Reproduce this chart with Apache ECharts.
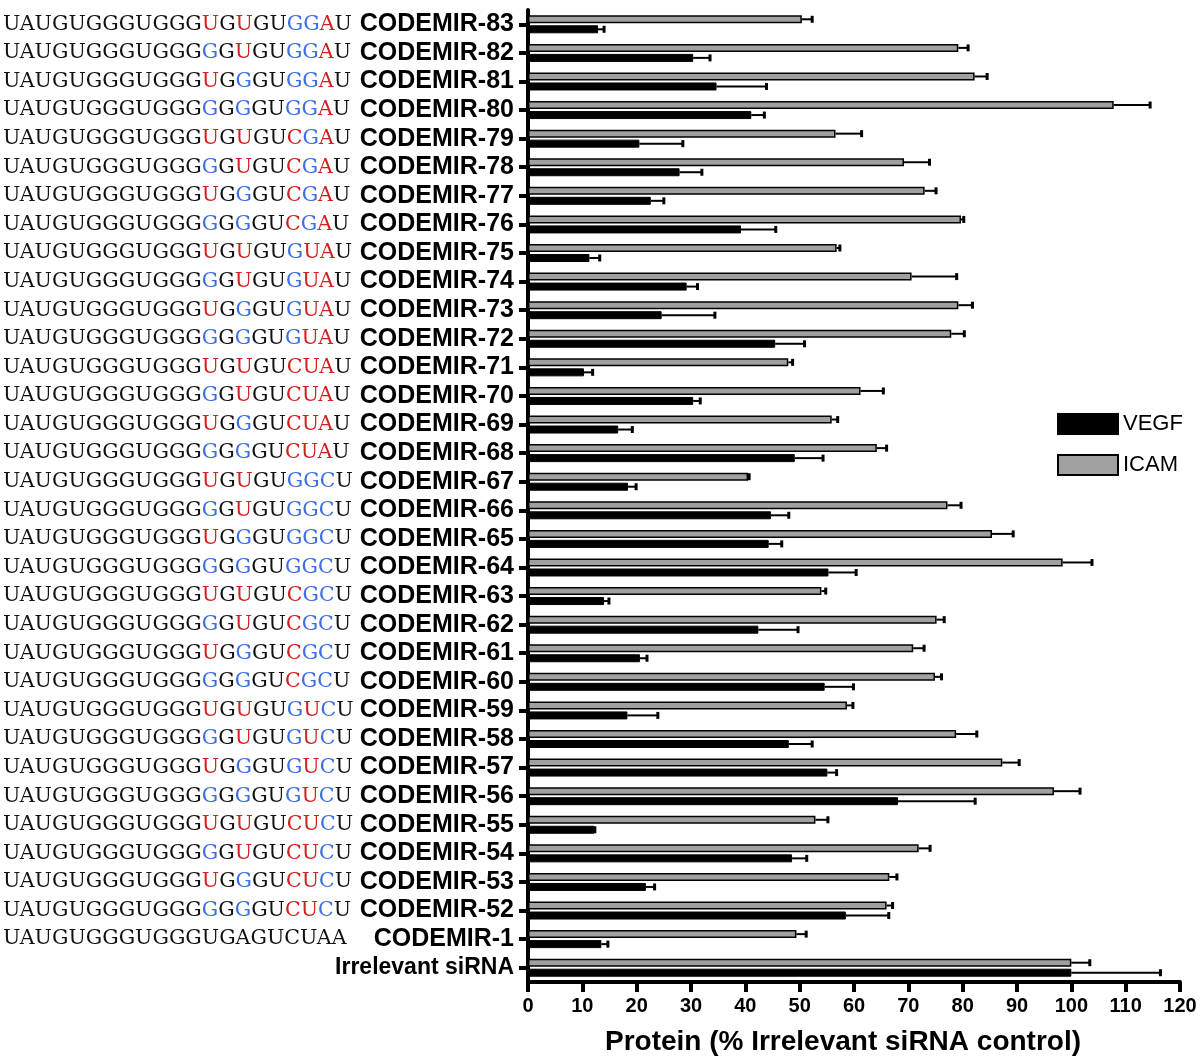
<!DOCTYPE html>
<html><head><meta charset="utf-8">
<script src="https://cdn.jsdelivr.net/npm/echarts@6/dist/echarts.min.js"></script>
<style>html,body{margin:0;padding:0;background:#fff}#c{width:1200px;height:1061px}</style>
</head><body><div id="c"></div><script>
const categories = ['CODEMIR-83','CODEMIR-82','CODEMIR-81','CODEMIR-80','CODEMIR-79','CODEMIR-78','CODEMIR-77','CODEMIR-76',
  'CODEMIR-75','CODEMIR-74','CODEMIR-73','CODEMIR-72','CODEMIR-71','CODEMIR-70','CODEMIR-69','CODEMIR-68',
  'CODEMIR-67','CODEMIR-66','CODEMIR-65','CODEMIR-64','CODEMIR-63','CODEMIR-62','CODEMIR-61','CODEMIR-60',
  'CODEMIR-59','CODEMIR-58','CODEMIR-57','CODEMIR-56','CODEMIR-55','CODEMIR-54','CODEMIR-53','CODEMIR-52',
  'CODEMIR-1','Irrelevant siRNA'];
const sequences = [
  'UAUGUGGGUGGGUGUGUGGAU','UAUGUGGGUGGGGGUGUGGAU','UAUGUGGGUGGGUGGGUGGAU','UAUGUGGGUGGGGGGGUGGAU',
  'UAUGUGGGUGGGUGUGUCGAU','UAUGUGGGUGGGGGUGUCGAU','UAUGUGGGUGGGUGGGUCGAU','UAUGUGGGUGGGGGGGUCGAU',
  'UAUGUGGGUGGGUGUGUGUAU','UAUGUGGGUGGGGGUGUGUAU','UAUGUGGGUGGGUGGGUGUAU','UAUGUGGGUGGGGGGGUGUAU',
  'UAUGUGGGUGGGUGUGUCUAU','UAUGUGGGUGGGGGUGUCUAU','UAUGUGGGUGGGUGGGUCUAU','UAUGUGGGUGGGGGGGUCUAU',
  'UAUGUGGGUGGGUGUGUGGCU','UAUGUGGGUGGGGGUGUGGCU','UAUGUGGGUGGGUGGGUGGCU','UAUGUGGGUGGGGGGGUGGCU',
  'UAUGUGGGUGGGUGUGUCGCU','UAUGUGGGUGGGGGUGUCGCU','UAUGUGGGUGGGUGGGUCGCU','UAUGUGGGUGGGGGGGUCGCU',
  'UAUGUGGGUGGGUGUGUGUCU','UAUGUGGGUGGGGGUGUGUCU','UAUGUGGGUGGGUGGGUGUCU','UAUGUGGGUGGGGGGGUGUCU',
  'UAUGUGGGUGGGUGUGUCUCU','UAUGUGGGUGGGGGUGUCUCU','UAUGUGGGUGGGUGGGUCUCU','UAUGUGGGUGGGGGGGUCUCU',
  'UAUGUGGGUGGGUGAGUCUAA',''];
const colorMasks = [
  '............r.r..bbr.','............b.r..bbr.','............r.b..bbr.','............b.b..bbr.',
  '............r.r..rbr.','............b.r..rbr.','............r.b..rbr.','............b.b..rbr.',
  '............r.r..brr.','............b.r..brr.','............r.b..brr.','............b.b..brr.',
  '............r.r..rrr.','............b.r..rrr.','............r.b..rrr.','............b.b..rrr.',
  '............r.r..bbb.','............b.r..bbb.','............r.b..bbb.','............b.b..bbb.',
  '............r.r..rbb.','............b.r..rbb.','............r.b..rbb.','............b.b..rbb.',
  '............r.r..brb.','............b.r..brb.','............r.b..brb.','............b.b..brb.',
  '............r.r..rrb.','............b.r..rrb.','............r.b..rrb.','............b.b..rrb.',
  '.....................',''];
const icam = [50.4,79.2,82.2,107.8,56.6,69.2,73.0,79.7,56.8,70.6,79.2,77.9,47.9,61.2,55.9,64.2,
  40.5,77.2,85.4,98.4,54.0,75.2,70.9,74.9,58.7,78.8,87.3,96.8,52.9,71.9,66.5,66.0,49.4,100];
const icamErr = [1.9,1.8,2.3,6.7,4.8,4.7,2.1,0.5,0.6,8.3,2.6,2.4,0.8,4.2,1.1,1.8,
  0.2,2.5,3.9,5.4,0.8,1.4,2.0,1.2,1.1,3.8,3.1,4.8,2.3,2.1,1.4,1.1,1.8,3.4];
const vegf = [12.9,30.4,34.7,41.1,20.5,27.9,22.6,39.2,11.3,29.2,24.6,45.5,10.3,30.4,16.6,49.1,
  18.4,44.7,44.3,55.3,14.0,42.4,20.6,54.6,18.3,48.0,55.1,68.1,12.2,48.6,21.7,58.5,13.5,100];
const vegfErr = [1.1,3.1,9.2,2.4,8.0,4.1,2.4,6.4,1.9,2.0,9.8,5.4,1.6,1.3,2.6,5.2,
  1.5,3.3,2.4,5.1,0.9,7.3,1.3,5.3,5.6,4.3,1.7,14.2,0.1,2.7,1.6,7.9,1.2,16.4];
const xTicks = {min:0, max:120, interval:10};

function seqLabel(seq, mask){
  let out=''; let i=0;
  while(i<seq.length){
    const k=mask[i]; let j=i;
    while(j<seq.length && mask[j]===k) j++;
    out += '{'+(k==='r'?'r':(k==='b'?'b':'k'))+'|'+seq.slice(i,j)+'}';
    i=j;
  }
  return out;
}
function errRender(off){
  return function(params, api){
    const idx=api.value(0), v=api.value(1), e=api.value(2);
    const p0=api.coord([v, idx]), p1=api.coord([v+e, idx]);
    const y=p0[1]+off;
    return {type:'group', children:[
      {type:'line', shape:{x1:p0[0],y1:y,x2:p1[0],y2:y}, style:{stroke:'#000',lineWidth:2}},
      {type:'line', shape:{x1:p1[0],y1:y-3.5,x2:p1[0],y2:y+3.5}, style:{stroke:'#000',lineWidth:3}}
    ]};
  };
}
const SANS = 'Liberation Sans, Arial, sans-serif';
const SERIF = 'DejaVu Serif, serif';
const chart = echarts.init(document.getElementById('c'), null, {renderer:'canvas'});
chart.setOption({
  animation:false,
  backgroundColor:'#fff',
  grid:{left:526, right:20, top:10, bottom:73, containLabel:false},
  legend:{orient:'vertical', left:1052, top:408, itemWidth:60, itemHeight:20, itemGap:19,
    icon:'rect', data:['VEGF','ICAM'],
    textStyle:{fontFamily:SANS, fontSize:22, color:'#000'}},
  xAxis:{type:'value', min:xTicks.min, max:xTicks.max, interval:xTicks.interval,
    axisLine:{show:true, lineStyle:{color:'#000', width:4}},
    axisTick:{show:true, length:10, lineStyle:{color:'#000', width:4}},
    splitLine:{show:false},
    axisLabel:{margin:14, color:'#000', fontWeight:'bold', fontSize:20, fontFamily:SANS},
    name:'Protein (% Irrelevant siRNA control)', nameLocation:'middle', nameGap:46,
    nameTextStyle:{color:'#000', fontWeight:'bold', fontSize:28, fontFamily:SANS, padding:[0,22,0,0]}},
  yAxis:[{type:'category', data:categories, inverse:true,
    axisLine:{show:true, lineStyle:{color:'#000', width:4}},
    axisTick:{show:true, length:9, alignWithLabel:true, lineStyle:{color:'#000', width:4}},
    axisLabel:{interval:0, margin:14, color:'#000', fontWeight:'bold', fontSize:25, fontFamily:SANS,
      formatter:function(v){ return v==='Irrelevant siRNA' ? '{ir|'+v+'}' : v; },
      rich:{ir:{fontWeight:'bold', fontSize:23, color:'#000', fontFamily:SANS}}}},
   {type:'category', data:categories, inverse:true, position:'left', offset:0,
    axisLine:{show:false}, axisTick:{show:false}, splitLine:{show:false},
    axisLabel:{interval:0, margin:525, align:'left',
      formatter:function(v, i){ return sequences[i] ? seqLabel(sequences[i], colorMasks[i]) : ''; },
      rich:{
        k:{color:'#111', fontSize:20.6, fontFamily:SERIF},
        r:{color:'#d0201f', fontSize:20.6, fontFamily:SERIF},
        b:{color:'#3d6fe3', fontSize:20.6, fontFamily:SERIF}}}}],
  series:[
    {name:'ICAM', type:'bar', data:icam, barWidth:8, barGap:'25%',
      itemStyle:{color:'#a0a0a0', borderColor:'#000', borderWidth:1.5}},
    {name:'VEGF', type:'bar', data:vegf, barWidth:8, barGap:'25%',
      itemStyle:{color:'#000', borderColor:'#000', borderWidth:1}},
    {name:'ICAMerr', type:'custom', renderItem:errRender(-5), encode:{x:[1,2], y:0}, z:5,
      data:icam.map(function(v,i){return [i, v, icamErr[i]];})},
    {name:'VEGFerr', type:'custom', renderItem:errRender(5), encode:{x:[1,2], y:0}, z:5,
      data:vegf.map(function(v,i){return [i, v, vegfErr[i]];})}
  ]
});
</script></body></html>
